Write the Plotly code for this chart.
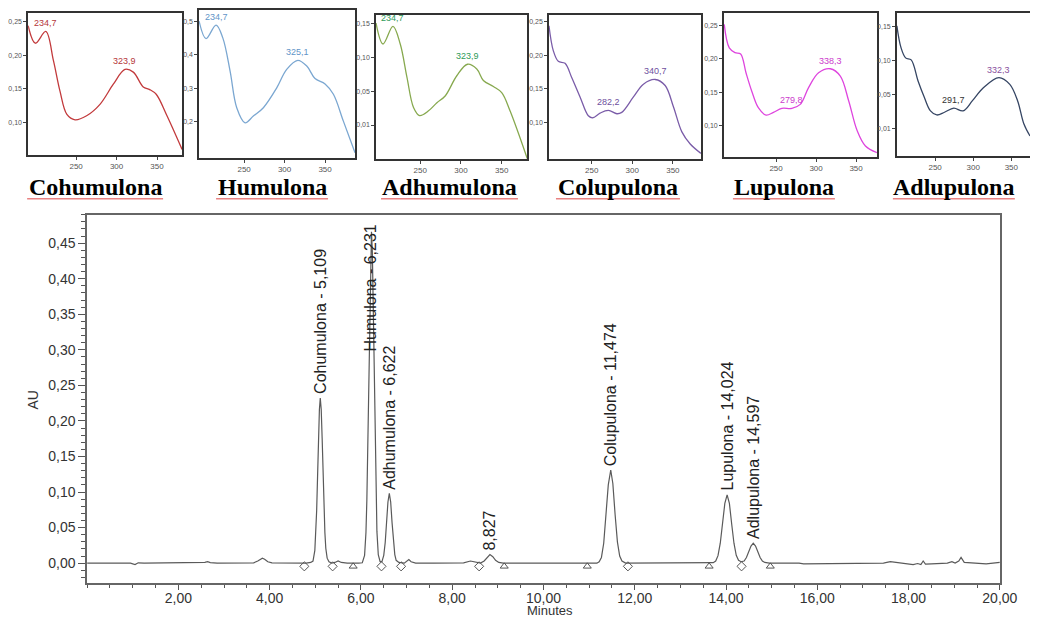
import plotly.graph_objects as go

# Layout geometry: the page body has an 8 px margin and the captured page is
# slightly wider than the reference, so reference pixel positions are mapped
# with a small horizontal factor.
OFF = 8
KX = 1058 / 1040
W, H = 1040, 611

# ---------------- Chromatogram ----------------
time_min = [
    0.00, 0.95, 1.05, 1.12, 1.25, 1.60, 1.85, 2.10, 2.40, 2.58, 2.64, 2.70, 2.85, 3.30, 3.65, 3.74, 3.80, 3.84, 3.89, 3.96, 4.05, 4.40, 4.80,
    4.90, 4.95, 4.99, 5.01, 5.03, 5.05, 5.07, 5.09, 5.109, 5.13, 5.15, 5.17, 5.19, 5.21, 5.23, 5.26, 5.30, 5.36, 5.43, 5.50, 5.57, 5.70, 5.95,
    6.03, 6.08, 6.11, 6.13, 6.15, 6.17, 6.19, 6.21, 6.231, 6.25, 6.27, 6.29, 6.31, 6.33, 6.35, 6.38, 6.42, 6.46, 6.50, 6.532, 6.562, 6.592,
    6.622, 6.652, 6.682, 6.712, 6.742, 6.772, 6.83, 6.95, 7.00, 7.05, 7.10, 7.20,
    7.60, 8.00, 8.25, 8.40, 8.52, 8.62, 8.70, 8.76, 8.827, 8.89, 8.95, 9.02, 9.12, 9.60, 10.20, 10.80,
    11.17, 11.22, 11.27, 11.32, 11.37, 11.42, 11.474, 11.52, 11.57, 11.62, 11.67, 11.72, 11.80,
    12.20, 12.80, 13.30, 13.65, 13.72, 13.774, 13.824, 13.874, 13.924, 13.974, 14.024, 14.074, 14.124, 14.174, 14.224, 14.274, 14.33,
    14.397, 14.447, 14.497, 14.547, 14.597, 14.647, 14.697, 14.747, 14.797, 14.85, 14.95,
    15.20, 15.50, 15.60, 15.70, 16.50, 17.20, 17.45, 17.60, 17.75, 17.95, 18.10, 18.20, 18.27, 18.32, 18.37, 18.50, 18.70, 18.85,
    18.95, 19.02, 19.10, 19.15, 19.22, 19.40, 19.70, 20.00,
]
au = [
    0.000, 0.000, -0.002, 0.0005, 0.000, 0.000, 0.001, 0.0005, 0.000, 0.001, 0.002, 0.0008, 0.000, 0.000, 0.0005, 0.003, 0.006, 0.007, 0.0055, 0.002, 0.0003, 0.000, 0.000,
    0.001, 0.003, 0.018, 0.039, 0.074, 0.122, 0.174, 0.216, 0.232, 0.216, 0.176, 0.126, 0.078, 0.043, 0.021, 0.007, 0.002, 0.000, 0.001, 0.003, 0.001, 0.000, 0.000,
    0.0006, 0.011, 0.043, 0.089, 0.162, 0.257, 0.358, 0.436, 0.466, 0.438, 0.360, 0.260, 0.165, 0.092, 0.045, 0.012, 0.002, 0.002, 0.011, 0.029, 0.057, 0.086,
    0.098, 0.086, 0.057, 0.029, 0.012, 0.004, 0.001, 0.000, 0.002, 0.005, 0.002, 0.000,
    0.000, 0.000, 0.0005, 0.003, 0.001, 0.000, 0.003, 0.008, 0.012, 0.009, 0.004, 0.001, 0.000, 0.000, 0.0003, 0.000,
    0.000, 0.002, 0.008, 0.028, 0.066, 0.110, 0.131, 0.112, 0.068, 0.030, 0.010, 0.003, 0.000,
    0.000, 0.000, 0.000, 0.000, 0.0007, 0.003, 0.0105, 0.028, 0.055, 0.084, 0.096, 0.084, 0.055, 0.028, 0.011, 0.004, 0.002,
    0.003, 0.008, 0.016, 0.024, 0.028, 0.024, 0.016, 0.008, 0.003, 0.001, 0.000,
    0.000, 0.001, 0.000, -0.001, -0.001, -0.001, 0.000, 0.002, 0.001, -0.001, -0.002, -0.0005, -0.002, 0.003, -0.0015, -0.001, -0.0005, 0.000,
    0.002, 0.000, 0.003, 0.008, 0.001, 0.000, -0.001, 0.001,
]

peak_names = ["Cohumulona", "Humulona", "Adhumulona", "", "Colupulona", "Lupulona", "Adlupulona"]
peak_rt = [5.109, 6.231, 6.622, 8.827, 11.474, 14.024, 14.597]
peak_label_au = [0.232, 0.292, 0.098, 0.012, 0.131, 0.096, 0.028]

baseline_t = [4.76, 5.38, 5.83, 6.45, 6.88, 8.59, 9.14, 10.96, 11.85, 13.63, 14.34, 14.97]
baseline_kind = ["d", "d", "t", "d", "d", "d", "t", "t", "d", "t", "d", "t"]

x_tickvals = [2, 4, 6, 8, 10, 12, 14, 16, 18, 20]
x_ticktext = ["2,00", "4,00", "6,00", "8,00", "10,00", "12,00", "14,00", "16,00", "18,00", "20,00"]
y_tickvals = [0.00, 0.05, 0.10, 0.15, 0.20, 0.25, 0.30, 0.35, 0.40, 0.45]
y_ticktext = ["0,00", "0,05", "0,10", "0,15", "0,20", "0,25", "0,30", "0,35", "0,40", "0,45"]

# ---------------- UV spectra ----------------
cohum_nm = [190.7, 199.7, 212.5, 222, 230, 238.6, 248.7, 263, 279.5, 296, 310.4, 320.7, 333, 341, 349, 361.6, 381]
cohum_abs = [0.244, 0.218, 0.2355, 0.192, 0.147, 0.112, 0.104, 0.110, 0.127, 0.157, 0.179, 0.175, 0.153, 0.149, 0.142, 0.112, 0.060]
cohum_peak_nm = [212.5, 310.4]
cohum_peak_txt = ["234,7", "323,9"]

hum_nm = [194.4, 203, 215.4, 223.7, 232.7, 240.9, 251.2, 261.4, 273.8, 290.3, 302.6, 316.3, 327.4, 337.6, 350, 360.3, 372.6, 387]
hum_abs = [0.500, 0.448, 0.488, 0.450, 0.351, 0.242, 0.197, 0.217, 0.242, 0.301, 0.356, 0.383, 0.366, 0.329, 0.313, 0.282, 0.202, 0.108]
hum_peak_nm = [215.4, 316.3]
hum_peak_txt = ["234,7", "325,1"]

adhum_nm = [195.8, 204.4, 216.6, 225.5, 233.7, 241.8, 249.2, 260.2, 270.5, 280.6, 294.9, 308, 319.4, 327.5, 339.8, 350, 360.2, 381.4]
adhum_abs = [0.151, 0.120, 0.146, 0.120, 0.071, 0.026, 0.014, 0.021, 0.033, 0.043, 0.073, 0.090, 0.083, 0.066, 0.057, 0.048, 0.021, -0.050]
adhum_peak_nm = [216.6, 308]
adhum_peak_txt = ["234,7", "323,9"]

colup_nm = [197.3, 202.6, 208.8, 217.1, 225.3, 235.6, 245.8, 251.2, 260.3, 270.6, 281, 287, 301.4, 313.7, 328.2, 340.5, 350.8, 361.1, 371.4, 384.6]
colup_abs = [0.244, 0.207, 0.191, 0.188, 0.167, 0.138, 0.110, 0.107, 0.114, 0.118, 0.113, 0.115, 0.138, 0.157, 0.164, 0.155, 0.123, 0.086, 0.068, 0.054]
colup_peak_nm = [270.6, 328.2]
colup_peak_txt = ["282,2", "340,7"]

lup_nm = [185.2, 191.5, 198.6, 205.7, 212.4, 219.5, 227.8, 237.5, 246.7, 257.2, 269.7, 280.2, 290.6, 303.1, 317.8, 330.3, 340.8, 351.3, 361.7, 376.4]
lup_abs = [0.251, 0.216, 0.209, 0.207, 0.179, 0.152, 0.127, 0.116, 0.120, 0.126, 0.126, 0.132, 0.157, 0.179, 0.185, 0.174, 0.137, 0.093, 0.070, 0.060]
lup_peak_nm = [263.5, 317.8]
lup_peak_txt = ["279,8", "338,3"]

adlup_nm = [199.8, 205.2, 211.3, 218.6, 227.6, 235.8, 243.9, 252.1, 262.3, 274.5, 286.7, 299, 313.3, 333.7, 348, 358.2, 366.4, 374.5]
adlup_abs = [0.151, 0.119, 0.104, 0.101, 0.070, 0.046, 0.026, 0.020, 0.024, 0.030, 0.026, 0.041, 0.060, 0.075, 0.065, 0.041, 0.007, -0.011]
adlup_peak_nm = [274.5, 333.7]
adlup_peak_txt = ["291,7", "332,3"]

spec_xtickvals = [250, 300, 350]
spec_xticktext = ["250", "300", "350"]


# ---------------- helpers ----------------
def px_x(p):
    return min(1.0, max(0.0, (p * KX - OFF) / W))


def px_y(p):
    return min(1.0, max(0.0, 1 - (p - OFF) / H))


def comma(v):
    return f"{v:.3f}".replace(".", ",")


SANS = "Liberation Sans, Arial, sans-serif"
SERIF = "Liberation Serif, Times New Roman, serif"

fig = go.Figure()

# main chromatogram
fig.add_trace(go.Scatter(x=time_min, y=au, mode="lines", line=dict(color="#5a5a5a", width=1.2),
                         xaxis="x", yaxis="y", hoverinfo="skip", showlegend=False))
sym_map = {"d": "diamond-open", "t": "triangle-up-open"}
fig.add_trace(go.Scatter(x=baseline_t, y=[-0.0045] * len(baseline_t), mode="markers",
                         marker=dict(symbol=[sym_map[k] for k in baseline_kind], size=7, color="#555",
                                     line=dict(width=1, color="#555")),
                         xaxis="x", yaxis="y", hoverinfo="skip", showlegend=False))

annotations = []
for name, rt, ly in zip(peak_names, peak_rt, peak_label_au):
    txt = f"{name} - {comma(rt)}" if name else comma(rt)
    annotations.append(dict(x=rt, y=ly, xref="x", yref="y", text=txt, textangle=-90, showarrow=False,
                            xanchor="center", yanchor="bottom", yshift=2,
                            font=dict(family=SANS, size=16, color="#222")))

annotations.append(dict(x=px_x(33), y=px_y(400), xref="paper", yref="paper", text="AU", textangle=-90,
                        showarrow=False, xanchor="center", yanchor="middle",
                        font=dict(family=SANS, size=14, color="#333")))
annotations.append(dict(x=px_x(550), y=px_y(619), xref="paper", yref="paper", text="Minutes",
                        showarrow=False, yanchor="bottom", xanchor="center", borderpad=0,
                        font=dict(family=SANS, size=13, color="#333")))

layout = dict(
    width=W, height=H, margin=dict(l=0, r=0, t=0, b=0), autosize=False,
    paper_bgcolor="white", plot_bgcolor="white", showlegend=False,
    xaxis=dict(domain=[px_x(87), px_x(1000)], range=[0, 20], tickvals=x_tickvals, ticktext=x_ticktext,
               ticks="outside", ticklen=5, tickcolor="#555", showline=True, linecolor="#666", linewidth=1.5,
               mirror=True, showgrid=False, zeroline=False, ticklabelstandoff=-4,
               minor=dict(dtick=0.5, ticks="outside", ticklen=3, tickcolor="#555", showgrid=False),
               tickfont=dict(family=SANS, size=14, color="#333"), anchor="y"),
    yaxis=dict(domain=[px_y(583), px_y(214)], range=[-0.028, 0.49], tickvals=y_tickvals, ticktext=y_ticktext,
               ticks="outside", ticklen=7, tickcolor="#555", showline=True, linecolor="#666", linewidth=1.5,
               mirror=True, showgrid=False, zeroline=False,
               minor=dict(dtick=0.01, ticks="outside", ticklen=4, tickcolor="#555", showgrid=False),
               tickfont=dict(family=SANS, size=14, color="#333"), anchor="x"),
)

panels = [
    dict(name="Cohumulona", nm=cohum_nm, ab=cohum_abs, pk=cohum_peak_nm, pt=cohum_peak_txt,
         line="#c23a3c", lbl=["#b5373a", "#b5373a"], xr=[190.7, 381], yr=[0.052, 0.263],
         yt=[0.10, 0.15, 0.20, 0.25], ytt=["0,10", "0,15", "0,20", "0,25"],
         bx=(28, 182), by=(12, 154), tx=(27, 163)),
    dict(name="Humulona", nm=hum_nm, ab=hum_abs, pk=hum_peak_nm, pt=hum_peak_txt,
         line="#7ba7d1", lbl=["#5f95c8", "#5f95c8"], xr=[194.4, 387], yr=[0.093, 0.533],
         yt=[0.2, 0.3, 0.4, 0.5], ytt=["0,2", "0,3", "0,4", "0,5"],
         bx=(199, 355), by=(9, 157), tx=(216, 328)),
    dict(name="Adhumulona", nm=adhum_nm, ab=adhum_abs, pk=adhum_peak_nm, pt=adhum_peak_txt,
         line="#87a94f", lbl=["#2f9b58", "#2f9b58"], xr=[195.8, 381], yr=[-0.05, 0.163],
         yt=[0.0, 0.05, 0.10, 0.15], ytt=["0,01", "0,05", "0,10", "0,15"],
         bx=(376, 527), by=(14, 158), tx=(381, 518)),
    dict(name="Colupulona", nm=colup_nm, ab=colup_abs, pk=colup_peak_nm, pt=colup_peak_txt,
         line="#7a5ca8", lbl=["#6e4f9e", "#6e4f9e"], xr=[197.3, 384.6], yr=[0.046, 0.26],
         yt=[0.10, 0.15, 0.20, 0.25], ytt=["0,10", "0,15", "0,20", "0,25"],
         bx=(549, 701), by=(14, 158), tx=(556, 680)),
    dict(name="Lupulona", nm=lup_nm, ab=lup_abs, pk=lup_peak_nm, pt=lup_peak_txt,
         line="#de45de", lbl=["#cc3acc", "#cc3acc"], xr=[184.8, 376], yr=[0.054, 0.268],
         yt=[0.10, 0.15, 0.20, 0.25], ytt=["0,10", "0,15", "0,20", "0,25"],
         bx=(724, 877), by=(12, 156), tx=(733, 835)),
    dict(name="Adlupulona", nm=adlup_nm, ab=adlup_abs, pk=adlup_peak_nm, pt=adlup_peak_txt,
         line="#354563", lbl=["#333333", "#8a4f9e"], xr=[199.8, 374.5], yr=[-0.04, 0.17],
         yt=[0.0, 0.05, 0.10, 0.15], ytt=["0,01", "0,05", "0,10", "0,15"],
         bx=(897, 1040), by=(12, 155), tx=(893, 1015)),
]

shapes = []
for i, p in enumerate(panels):
    k = i + 2
    xa, ya = f"x{k}", f"y{k}"
    fig.add_trace(go.Scatter(x=p["nm"], y=p["ab"], mode="lines",
                             line=dict(color=p["line"], width=1.3, shape="spline", smoothing=1.0),
                             xaxis=xa, yaxis=ya, hoverinfo="skip", showlegend=False, cliponaxis=True))
    for j, (pn, txt) in enumerate(zip(p["pk"], p["pt"])):
        idx = min(range(len(p["nm"])), key=lambda q: abs(p["nm"][q] - pn))
        annotations.append(dict(x=p["nm"][idx], y=p["ab"][idx], xref=xa, yref=ya, text=txt, showarrow=False,
                                xanchor="center", yanchor="bottom", yshift=1,
                                font=dict(family=SANS, size=9, color=p["lbl"][j])))
    last = (i == len(panels) - 1)
    layout[f"xaxis{k}"] = dict(domain=[px_x(p["bx"][0]), px_x(p["bx"][1])], range=p["xr"], anchor=ya,
                               tickvals=spec_xtickvals, ticktext=spec_xticktext, ticks="outside", ticklen=3,
                               tickcolor="#444", showline=True, linecolor="#333", linewidth=1.5, mirror=True,
                               showgrid=False, zeroline=False, tickfont=dict(family=SANS, size=8, color="#555"))
    layout[f"yaxis{k}"] = dict(domain=[px_y(p["by"][1]), px_y(p["by"][0])], range=p["yr"], anchor=xa,
                               tickvals=p["yt"], ticktext=p["ytt"], ticks="outside", ticklen=3,
                               tickcolor="#444", showline=True, linecolor="#333", linewidth=1.5,
                               mirror=(not last), showgrid=False, zeroline=False,
                               tickfont=dict(family=SANS, size=7, color="#555"))
    cx = (p["tx"][0] + p["tx"][1]) / 2
    annotations.append(dict(x=px_x(cx), y=px_y(186), xref="paper", yref="paper", text=f"<b>{p['name']}</b>",
                            showarrow=False, xanchor="center", yanchor="middle",
                            font=dict(family=SERIF, size=24, color="#000")))
    shapes.append(dict(type="line", xref="paper", yref="paper", x0=px_x(p["tx"][0]), x1=px_x(p["tx"][1]),
                       y0=px_y(198), y1=px_y(198), line=dict(color="rgba(225,90,90,0.75)", width=1.5)))

layout["annotations"] = annotations
layout["shapes"] = shapes
fig.update_layout(**layout)
fig.write_html("out.html")
